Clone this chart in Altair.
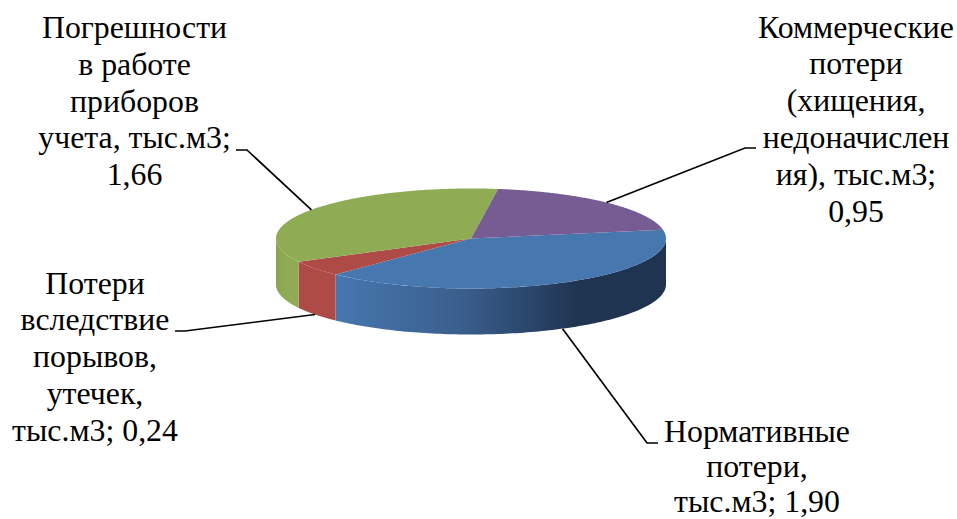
import numpy as np
import pandas as pd
import altair as alt

# Water loss components, thousand cubic metres, in clockwise drawing order
names = ["Нормативные", "Потери", "Погрешности", "Коммерческие"]
label_heads = [
    "Нормативные\nпотери,\nтыс.м3; ",
    "Потери\nвследствие\nпорывов,\nутечек,\nтыс.м3; ",
    "Погрешности\nв работе\nприборов\nучета, тыс.м3;\n",
    "Коммерческие\nпотери\n(хищения,\nнедоначислен\nия), тыс.м3;\n",
]
values = [1.90, 0.24, 1.66, 0.95]
top_colors = ["#4777AF", "#AE4B47", "#8FAC54", "#775C93"]

# Pie projection on the page
CX, CY, RX, RY, DEPTH = 471.0, 238.5, 195.0, 50.0, 46.0
START_DEG = 80.0


def rim(deg, drop=0.0):
    t = np.radians(deg)
    return CX + RX * np.sin(t), CY - RY * np.cos(t) + drop


def polygon(xs, ys):
    return pd.DataFrame({"x": xs, "y": ys, "i": np.arange(len(xs))})


x_enc = alt.X("x:Q", scale=alt.Scale(domain=[0, 957], range=[0, 957]), axis=None)
y_enc = alt.Y("y:Q", scale=alt.Scale(domain=[0, 519], range=[0, 519]), axis=None)


def face(xs, ys, fill):
    return (
        alt.Chart(polygon(xs, ys))
        .mark_line(filled=True, fill=fill, strokeWidth=0, clip=False)
        .encode(x=x_enc, y=y_enc, order=alt.Order("i:Q"))
    )


def linear_fill(stops):
    return alt.Gradient(
        gradient="linear", x1=0, x2=1, y1=0, y2=0,
        stops=[alt.GradientStop(offset=o, color=c) for o, c in stops],
    )


shares = np.array(values) / sum(values) * 360.0
ends = START_DEG + np.cumsum(shares)
starts = ends - shares
mids = (starts + ends) / 2

side_fills = [
    linear_fill([(0, "#4777AF"), (0.38, "#3A5F8D"), (0.74, "#1F3450"), (1, "#1F3450")]),
    "#AE4B47",
    linear_fill([(0, "#87A34E"), (0.4, "#8FAC54"), (1, "#8FAC54")]),
]

layers = []

# Visible outer wall: only the front half of the rim, between 90 and 270 degrees
for k, fill in enumerate(side_fills):
    a, b = max(starts[k], 90.0), min(ends[k], 270.0)
    deg = np.linspace(a, b, 120)
    x0, y0 = rim(deg)
    x1, y1 = rim(deg[::-1], DEPTH)
    layers.append(face(np.r_[x0, x1], np.r_[y0, y1], fill))

# Top surface wedges
for k, color in enumerate(top_colors):
    deg = np.linspace(starts[k], ends[k], 160)
    xr, yr = rim(deg)
    layers.append(face(np.r_[CX, xr], np.r_[CY, yr], color))

# Leader lines start on the rim at each wedge's mid-angle and end at an elbow by the label
leader_drop = [DEPTH, DEPTH, 0.0, 0.0]
elbows = [(647, 443, 658), (185, 331, 175), (247, 150, 236), (745, 148, 756)]
rows = []
for k, (bx, by, ex) in enumerate(elbows):
    sx, sy = rim(mids[k], leader_drop[k])
    for j, (px, py) in enumerate([(sx, sy), (bx, by), (ex, by)]):
        rows.append({"name": names[k], "x": px, "y": py, "i": j})
layers.append(
    alt.Chart(pd.DataFrame(rows))
    .mark_line(color="#000000", strokeWidth=1.7, clip=False)
    .encode(x=x_enc, y=y_enc, detail="name:N", order=alt.Order("i:Q"))
)

# Data labels: first-line baseline and horizontal centre of each block
label_x = [757, 95, 134.5, 856]
label_y = [441.5, 293.5, 38, 37.5]
line_heights = [35.2, 36.8, 36.8, 36.8]
labels = pd.DataFrame({
    "text": [h + f"{v:.2f}".replace(".", ",") for h, v in zip(label_heads, values)],
    "x": label_x,
    "y": label_y,
    "lh": line_heights,
})
# The block at the bottom edge uses tighter leading so its last line stays on the page
for lh, block in labels.groupby("lh"):
    layers.append(
        alt.Chart(block.drop(columns="lh"))
        .mark_text(
            font="Liberation Serif", fontSize=31.8, color="#000000", align="center",
            baseline="alphabetic", lineBreak="\n", lineHeight=float(lh), clip=False,
        )
        .encode(x=x_enc, y=y_enc, text="text:N")
    )

chart = (
    alt.layer(*layers)
    .properties(width=957, height=519, padding=0, autosize=alt.AutoSizeParams(type="none"), background="#FFFFFF")
    .configure_view(stroke=None)
)
chart.save("out.html", embed_options={"renderer": "svg", "actions": False})
